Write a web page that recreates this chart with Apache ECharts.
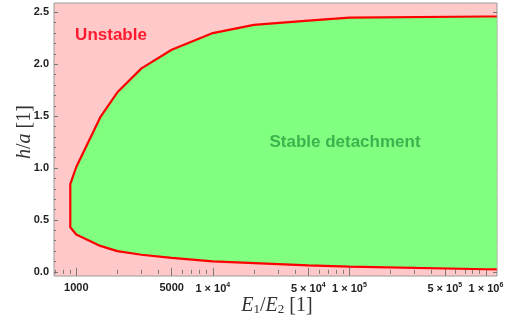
<!DOCTYPE html>
<html>
<head>
<meta charset="utf-8">
<script src="https://cdn.jsdelivr.net/npm/echarts@6/dist/echarts.min.js"></script>
<style>html,body{margin:0;padding:0;background:#fff}#c{width:508px;height:322px}</style>
</head>
<body>
<div id="c"></div>
<script>
// Boundary of the stable region (E1/E2, h/a)
const upperX = [1.2e6, 1e6, 1e5, 5e4, 2e4, 1e4, 5000, 3000, 2000, 1500, 1000, 904];
const upperY = [2.46, 2.46, 2.45, 2.42, 2.38, 2.30, 2.14, 1.96, 1.73, 1.49, 1.01, 0.845];
const lowerX = [904, 1000, 1500, 2000, 3000, 5000, 1e4, 5e4, 1e5, 1e6, 1.2e6];
const lowerY = [0.43, 0.36, 0.25, 0.20, 0.165, 0.135, 0.10, 0.062, 0.05, 0.025, 0.023];

const xMajorTicks = [1000, 5000, 1e4, 5e4, 1e5, 5e5, 1e6];
const xMinorTicks = [700, 800, 900, 2000, 3000, 4000, 6000, 7000, 8000, 9000,
  2e4, 3e4, 4e4, 6e4, 7e4, 8e4, 9e4, 2e5, 3e5, 4e5, 6e5, 7e5, 8e5, 9e5];
const yMajorTicks = [0, 0.5, 1.0, 1.5, 2.0, 2.5];
const yMinorTicks = [0.1, 0.2, 0.3, 0.4, 0.6, 0.7, 0.8, 0.9, 1.1, 1.2, 1.3, 1.4,
  1.6, 1.7, 1.8, 1.9, 2.1, 2.2, 2.3, 2.4];

const boundaryX = upperX.concat(lowerX);
const boundaryY = upperY.concat(lowerY);
const boundary = boundaryX.map((x, i) => [x, boundaryY[i]]);

const X_MIN = 687, X_MAX = 1.205e6, Y_MIN = -0.04, Y_MAX = 2.59;

function xLabel(v) {
  if (v < 1e4) return String(Math.round(v));
  const e = Math.floor(Math.log10(v) + 1e-9);
  const m = Math.round(v / Math.pow(10, e));
  return '{m|' + m + ' \u00d7 10}{s|' + e + '}';
}

function xAxisDef(pos, ticks, len, labels) {
  return {
    type: 'log', logBase: 10, min: X_MIN, max: X_MAX, position: pos,
    axisLine: { show: false },
    splitLine: { show: false },
    axisTick: { show: true, inside: true, length: len, customValues: ticks,
      lineStyle: { color: '#777', width: 1 } },
    axisLabel: labels ? {
      show: true, customValues: ticks, margin: 6, color: '#222',
      fontFamily: 'Liberation Sans, Arial, sans-serif', fontWeight: 'bold', fontSize: 11,
      formatter: xLabel,
      rich: {
        m: { fontFamily: 'Liberation Sans, Arial, sans-serif', fontWeight: 'bold', fontSize: 11, color: '#222', lineHeight: 14 },
        s: { fontFamily: 'Liberation Sans, Arial, sans-serif', fontWeight: 'bold', fontSize: 7, color: '#222', verticalAlign: 'top', lineHeight: 8, padding: [0, 0, 6, 0] }
      }
    } : { show: false }
  };
}
function yAxisDef(pos, ticks, len, labels) {
  return {
    type: 'value', min: Y_MIN, max: Y_MAX, position: pos,
    axisLine: { show: false },
    splitLine: { show: false },
    axisTick: { show: true, inside: true, length: len, customValues: ticks,
      lineStyle: { color: '#777', width: 1 } },
    axisLabel: labels ? {
      show: true, customValues: ticks, margin: 5, color: '#222',
      fontFamily: 'Liberation Sans, Arial, sans-serif', fontWeight: 'bold', fontSize: 11,
      formatter: v => v.toFixed(1)
    } : { show: false }
  };
}

const chart = echarts.init(document.getElementById('c'), null, { renderer: 'canvas' });
chart.setOption({
  animation: false,
  grid: { left: 54, right: 11, top: 3, bottom: 46, outerBoundsMode: 'none',
    show: true, backgroundColor: '#ffc9c9', borderColor: '#9a9a9a', borderWidth: 1 },
  xAxis: [
    xAxisDef('bottom', xMajorTicks, 4, true),
    xAxisDef('bottom', xMinorTicks, 2, false),
    xAxisDef('top', xMajorTicks, 4, false),
    xAxisDef('top', xMinorTicks, 2, false)
  ],
  yAxis: [
    yAxisDef('left', yMajorTicks, 4, true),
    yAxisDef('left', yMinorTicks, 2, false),
    yAxisDef('right', yMajorTicks, 4, false),
    yAxisDef('right', yMinorTicks, 2, false)
  ],
  series: [
    {
      type: 'custom', xAxisIndex: 0, yAxisIndex: 0, z: 2,
      data: [[1000, 1]],
      renderItem: function (params, api) {
        const pts = boundary.map(p => api.coord(p));
        return { type: 'polygon', shape: { points: pts }, style: { fill: '#80ff80' } };
      }
    },
    {
      type: 'line', xAxisIndex: 0, yAxisIndex: 0, z: 3,
      data: boundary, showSymbol: false, symbol: 'none', smooth: false,
      lineStyle: { color: '#ff0000', width: 2.2 }
    }
  ],
  graphic: [
    { type: 'text', x: 111, y: 35, z: 10,
      style: { text: 'Unstable', fill: '#ff1a2e', font: 'bold 17px "Liberation Sans", Arial, sans-serif',
        textAlign: 'center', textVerticalAlign: 'middle' } },
    { type: 'text', x: 345, y: 142, z: 10,
      style: { text: 'Stable detachment', fill: '#3cb44e', font: 'bold 17px "Liberation Sans", Arial, sans-serif',
        textAlign: 'center', textVerticalAlign: 'middle' } },
    { type: 'text', x: 277, y: 306, z: 10,
      style: { text: '{i|E}{sb|1}{n|/}{i|E}{sb|2}{n| [1]}', textAlign: 'center', textVerticalAlign: 'middle',
        rich: {
          i: { font: 'italic 20px "Liberation Serif", "DejaVu Serif", serif', fill: '#333' },
          n: { font: '20px "Liberation Serif", "DejaVu Serif", serif', fill: '#333' },
          sb: { font: '13px "Liberation Serif", "DejaVu Serif", serif', fill: '#333', verticalAlign: 'bottom', padding: [6, 0, 0, 0] }
        } } },
    { type: 'text', x: 25, y: 132, z: 10, rotation: Math.PI / 2,
      style: { text: '{i|h}{n|/}{i|a}{n| [1]}', textAlign: 'center', textVerticalAlign: 'middle',
        rich: {
          i: { font: 'italic 20px "Liberation Serif", "DejaVu Serif", serif', fill: '#333' },
          n: { font: '20px "Liberation Serif", "DejaVu Serif", serif', fill: '#333' }
        } } }
  ]
});
</script>
</body>
</html>
